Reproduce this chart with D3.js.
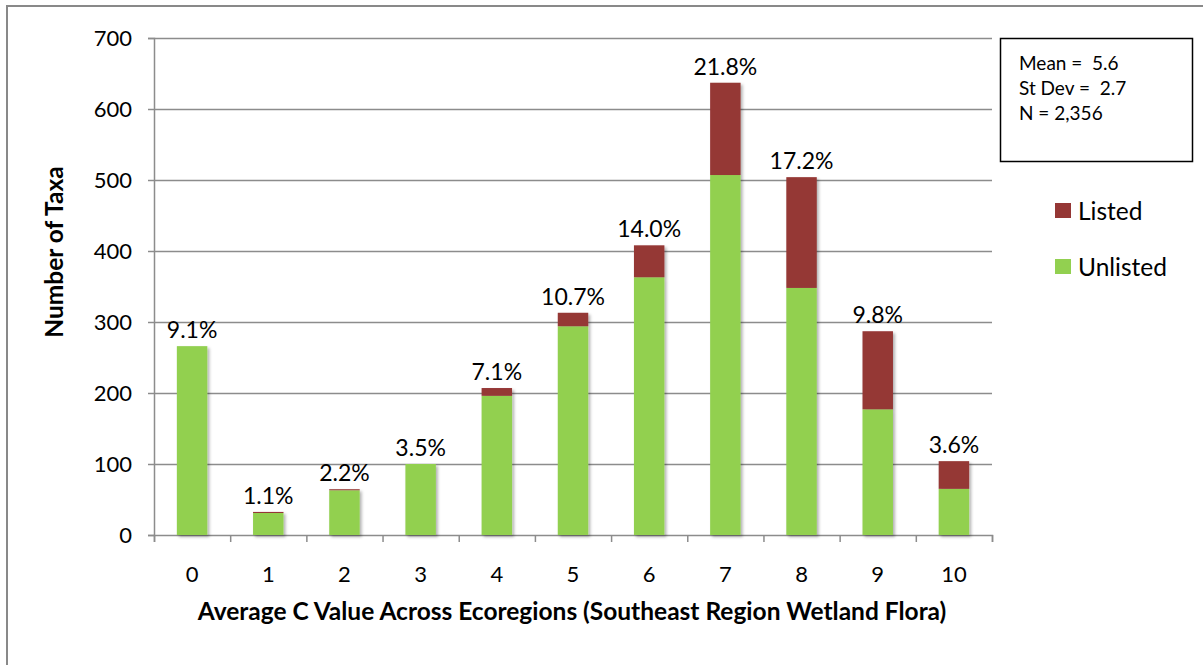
<!DOCTYPE html>
<html>
<head>
<meta charset="utf-8">
<script src="https://cdn.jsdelivr.net/npm/d3@7"></script>
<style>
  body { margin: 0; background: #fff; }
  svg { display: block; font-family: Lato, "Open Sans", sans-serif; }
</style>
</head>
<body>
<svg width="1203" height="665"></svg>
<script>
// C value categories and stacked counts
var categories = ["0", "1", "2", "3", "4", "5", "6", "7", "8", "9", "10"];
var unlisted = [266, 31, 63, 100, 196, 294, 363, 507, 348, 177, 65];
var listed = [0, 1.5, 1.5, 0, 11, 19, 45, 130, 156, 110, 39];
var pctLabels = ["9.1%", "1.1%", "2.2%", "3.5%", "7.1%", "10.7%", "14.0%", "21.8%", "17.2%", "9.8%", "3.6%"];
var yTicks = [0, 100, 200, 300, 400, 500, 600, 700];
var seriesNames = ["Listed", "Unlisted"];
var statsLines = ["Mean =  5.6", "St Dev =  2.7", "N = 2,356"];

var colors = { Listed: "#953735", Unlisted: "#92d050" };

var rows = categories.map(function (c, i) {
    return { cat: c, Unlisted: unlisted[i], Listed: listed[i], label: pctLabels[i] };
});

var svg = d3.select("svg");
var plotLeft = 154, plotRight = 992, plotTop = 38, plotBottom = 535;

// outer chart border
svg.append("rect")
    .attr("x", 7).attr("y", 6)
    .attr("width", 1250).attr("height", 700)
    .attr("fill", "none")
    .attr("stroke", "#898989")
    .attr("stroke-width", 2);

var x = d3.scaleBand()
    .domain(categories)
    .range([plotLeft, plotRight])
    .paddingInner(0.6)
    .paddingOuter(0.3);

var y = d3.scaleLinear()
    .domain([0, 700])
    .range([plotBottom, plotTop]);

var defs = svg.append("defs");
var shadow = defs.append("filter").attr("id", "shadow")
    .attr("x", "-30%").attr("y", "-10%").attr("width", "160%").attr("height", "130%");
shadow.append("feDropShadow")
    .attr("dx", 2).attr("dy", 2)
    .attr("stdDeviation", 1.6)
    .attr("flood-color", "#000")
    .attr("flood-opacity", 0.3);

// gridlines
svg.append("g")
    .selectAll("line")
    .data(yTicks.filter(function (t) { return t > 0; }))
    .enter().append("line")
    .attr("x1", plotLeft).attr("x2", plotRight)
    .attr("y1", function (d) { return Math.round(y(d)) + 0.5; })
    .attr("y2", function (d) { return Math.round(y(d)) + 0.5; })
    .attr("stroke", "#8c8c8c")
    .attr("stroke-width", 1.5);

// y axis
var yAxis = svg.append("g")
    .attr("transform", "translate(" + plotLeft + ",0)")
    .call(d3.axisLeft(y).tickValues(yTicks).tickSize(6).tickPadding(16));
yAxis.select(".domain").attr("stroke", "#8c8c8c").attr("stroke-width", 1.5);
yAxis.selectAll(".tick line").attr("stroke", "#8c8c8c").attr("stroke-width", 1.5);
yAxis.selectAll(".tick text")
    .attr("font-family", "Lato, sans-serif")
    .attr("font-size", 22)
    .attr("fill", "#000");

// x axis: ticks sit between categories
var edge = d3.scaleLinear().domain([0, categories.length]).range([plotLeft, plotRight]);
var xAxis = svg.append("g")
    .attr("transform", "translate(0," + plotBottom + ")")
    .call(d3.axisBottom(edge).ticks(categories.length).tickSize(7).tickFormat(""));
xAxis.select(".domain").attr("stroke", "#8c8c8c").attr("stroke-width", 1.5);
xAxis.selectAll(".tick line").attr("stroke", "#8c8c8c").attr("stroke-width", 1.5);

svg.append("g")
    .selectAll("text")
    .data(categories)
    .enter().append("text")
    .attr("x", function (d) { return x(d) + x.bandwidth() / 2; })
    .attr("y", 582)
    .attr("text-anchor", "middle")
    .attr("font-size", 22)
    .text(function (d) { return d; });

// stacked bars
var stack = d3.stack().keys(["Unlisted", "Listed"]);
var layers = stack(rows);

svg.append("g")
    .attr("filter", "url(#shadow)")
    .selectAll("g")
    .data(layers)
    .enter().append("g")
    .attr("fill", function (d) { return colors[d.key]; })
    .selectAll("rect")
    .data(function (d) { return d; })
    .enter().append("rect")
    .attr("x", function (d) { return x(d.data.cat); })
    .attr("width", x.bandwidth())
    .attr("y", function (d) { return y(d[1]); })
    .attr("height", function (d) { return y(d[0]) - y(d[1]); });

// percentage labels
svg.append("g")
    .selectAll("text")
    .data(rows)
    .enter().append("text")
    .attr("x", function (d) { return x(d.cat) + x.bandwidth() / 2; })
    .attr("y", function (d) { return y(d.Unlisted + d.Listed) - 8; })
    .attr("text-anchor", "middle")
    .attr("font-size", 23)
    .text(function (d) { return d.label; });

// axis titles
svg.append("text")
    .attr("transform", "translate(63,252) rotate(-90)")
    .attr("text-anchor", "middle")
    .attr("font-weight", "bold")
    .attr("font-size", 24.5)
    .text("Number of Taxa");

svg.append("text")
    .attr("x", 572)
    .attr("y", 620)
    .attr("text-anchor", "middle")
    .attr("font-weight", "bold")
    .attr("font-size", 24.5)
    .text("Average C Value Across Ecoregions (Southeast Region Wetland Flora)");

// stats box
svg.append("rect")
    .attr("x", 1000.5).attr("y", 38.5)
    .attr("width", 192).attr("height", 123)
    .attr("fill", "#fff")
    .attr("stroke", "#000")
    .attr("stroke-width", 1.5);

svg.append("g")
    .selectAll("text")
    .data(statsLines)
    .enter().append("text")
    .attr("x", 1019)
    .attr("y", function (d, i) { return 70 + i * 25; })
    .attr("font-size", 19)
    .style("white-space", "pre")
    .text(function (d) { return d; });

// legend
var legend = svg.append("g")
    .selectAll("g")
    .data(seriesNames)
    .enter().append("g")
    .attr("transform", function (d, i) { return "translate(1055," + (203 + i * 56) + ")"; });
legend.append("rect")
    .attr("width", 16).attr("height", 15)
    .attr("fill", function (d) { return colors[d]; });
legend.append("text")
    .attr("x", 23).attr("y", 17)
    .attr("font-size", 24.5)
    .text(function (d) { return d; });
</script>
</body>
</html>
